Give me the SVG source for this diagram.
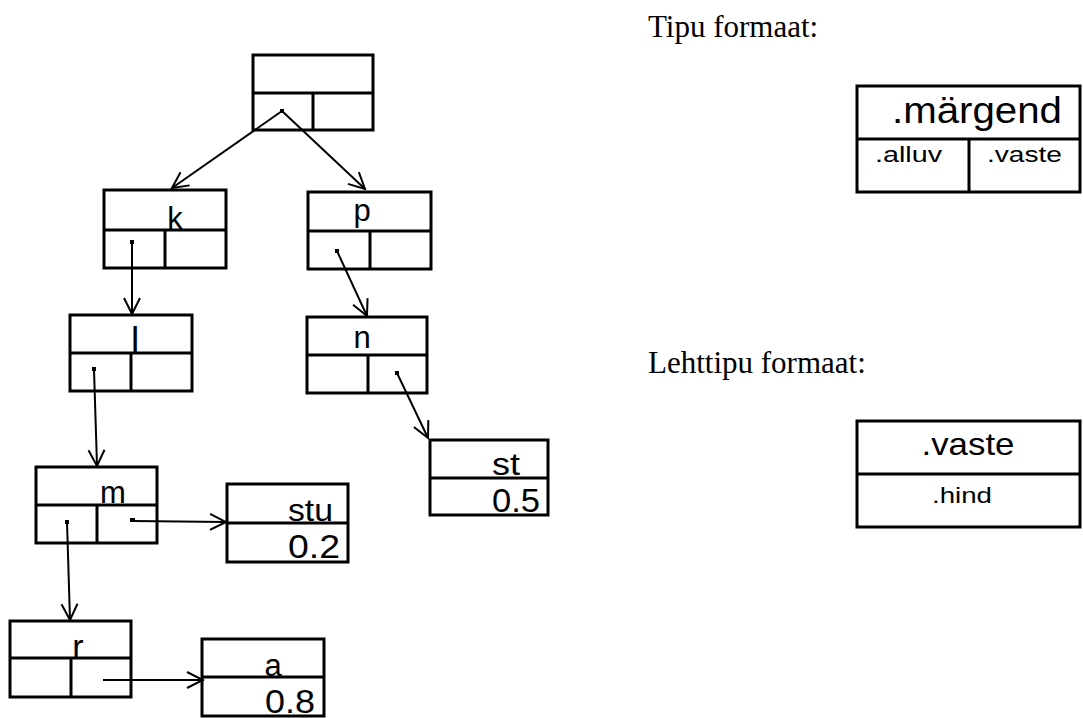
<svg xmlns="http://www.w3.org/2000/svg" width="1083" height="718" viewBox="0 0 1083 718">
  <style>
    .box { fill: #fff; stroke: #000; stroke-width: 3; }
    .sep { stroke: #000; stroke-width: 3; fill: none; }
    .lbl { font-family: "Liberation Sans", Arial, sans-serif; font-size: 31px; fill: #000; }
    .cap { font-family: "Liberation Serif", "Times New Roman", serif; font-size: 31px; fill: #000; }
    .fmt { font-family: "Liberation Sans", Arial, sans-serif; fill: #000; }
    .edge { stroke: #000; stroke-width: 2; fill: none; marker-end: url(#vee); }
    .dot { fill: #000; }
  </style>
  <defs>
    <marker id="vee" viewBox="0 0 20 20" refX="18" refY="10" markerWidth="20" markerHeight="20" markerUnits="userSpaceOnUse" orient="auto">
      <path d="M2,2 L18,10 L2,18" fill="none" stroke="#000" stroke-width="2"/>
    </marker>
  </defs>
  <rect width="1083" height="718" fill="#fff"/>

  <!-- tree nodes: label row on top, alluv / vaste cells below -->
  <g id="root">
    <rect class="box" x="253" y="55" width="120" height="75"/>
    <path class="sep" d="M253,93 H373 M313,93 V130"/>
  </g>
  <g id="node-k">
    <rect class="box" x="104" y="190" width="122" height="78"/>
    <path class="sep" d="M104,230 H226 M165,230 V268"/>
    <text class="lbl" x="175" y="229" text-anchor="middle">k</text>
  </g>
  <g id="node-p">
    <rect class="box" x="308" y="192" width="123" height="77"/>
    <path class="sep" d="M308,231 H431 M370,231 V269"/>
    <text class="lbl" x="362" y="221" text-anchor="middle">p</text>
  </g>
  <g id="node-l">
    <rect class="box" x="70" y="315" width="122" height="76"/>
    <path class="sep" d="M70,353 H192 M131,353 V391"/>
    <text class="lbl" x="135" y="353" text-anchor="middle" style="font-size:37px">l</text>
  </g>
  <g id="node-n">
    <rect class="box" x="307" y="317" width="120" height="76"/>
    <path class="sep" d="M307,355 H427 M368,355 V393"/>
    <text class="lbl" x="362" y="348" text-anchor="middle">n</text>
  </g>
  <g id="node-m">
    <rect class="box" x="36" y="467" width="121" height="76"/>
    <path class="sep" d="M36,505 H157 M97,505 V543"/>
    <text class="lbl" x="113" y="503" text-anchor="middle">m</text>
  </g>
  <g id="node-r">
    <rect class="box" x="10" y="621" width="121" height="76"/>
    <path class="sep" d="M10,658 H131 M71,658 V697"/>
    <text class="lbl" x="78" y="658" text-anchor="middle" style="font-size:34px">r</text>
  </g>

  <!-- leaves: vaste on top, hind below -->
  <g id="leaf-stu">
    <rect class="box" x="227" y="484" width="121" height="78"/>
    <path class="sep" d="M227,523 H348"/>
    <text class="lbl" x="333" y="521" text-anchor="end" textLength="45" lengthAdjust="spacingAndGlyphs">stu</text>
    <text class="lbl" x="340" y="558" text-anchor="end" textLength="52" lengthAdjust="spacingAndGlyphs" style="font-size:33px">0.2</text>
  </g>
  <g id="leaf-st">
    <rect class="box" x="430" y="440" width="118" height="75"/>
    <path class="sep" d="M430,478 H548"/>
    <text class="lbl" x="520" y="475" text-anchor="end" textLength="28" lengthAdjust="spacingAndGlyphs">st</text>
    <text class="lbl" x="540" y="512" text-anchor="end" textLength="48" lengthAdjust="spacingAndGlyphs" style="font-size:33px">0.5</text>
  </g>
  <g id="leaf-a">
    <rect class="box" x="202" y="639" width="122" height="77"/>
    <path class="sep" d="M202,677 H324"/>
    <text class="lbl" x="273" y="676" text-anchor="middle">a</text>
    <text class="lbl" x="315" y="713" text-anchor="end" textLength="50" lengthAdjust="spacingAndGlyphs" style="font-size:33px">0.8</text>
  </g>

  <!-- pointers -->
  <g id="connectors">
    <rect class="dot" x="280" y="109" width="4" height="4"/>
    <line class="edge" x1="282" y1="111" x2="172" y2="188"/>
    <line class="edge" x1="282" y1="111" x2="365" y2="189"/>
    <rect class="dot" x="130" y="240" width="4" height="4"/>
    <line class="edge" x1="132" y1="242" x2="132" y2="314"/>
    <rect class="dot" x="335" y="249" width="4" height="4"/>
    <line class="edge" x1="337" y1="251" x2="367" y2="316"/>
    <rect class="dot" x="92" y="367" width="4" height="4"/>
    <line class="edge" x1="94" y1="369" x2="97" y2="466"/>
    <rect class="dot" x="130" y="518" width="5" height="4"/>
    <line class="edge" x1="133" y1="521" x2="226" y2="522"/>
    <rect class="dot" x="65" y="520" width="4" height="4"/>
    <line class="edge" x1="67" y1="522" x2="70" y2="620"/>
    <line class="edge" x1="103" y1="680" x2="203" y2="680"/>
    <rect class="dot" x="395" y="371" width="4" height="4"/>
    <line class="edge" x1="397" y1="373" x2="428" y2="438"/>
  </g>

  <!-- legend -->
  <text class="cap" x="648" y="37">Tipu formaat:</text>
  <g id="fmt-node">
    <rect class="box" x="857" y="86" width="223" height="106"/>
    <path class="sep" d="M857,139 H1080 M969,139 V192"/>
    <text class="fmt" x="977" y="123" text-anchor="middle" textLength="170" lengthAdjust="spacingAndGlyphs" style="font-size:36px">.märgend</text>
    <text class="fmt" x="875" y="162" textLength="67" lengthAdjust="spacingAndGlyphs" style="font-size:22px">.alluv</text>
    <text class="fmt" x="987" y="162" textLength="75" lengthAdjust="spacingAndGlyphs" style="font-size:22px">.vaste</text>
  </g>
  <text class="cap" x="648" y="373">Lehttipu formaat:</text>
  <g id="fmt-leaf">
    <rect class="box" x="857" y="421" width="223" height="106"/>
    <path class="sep" d="M857,474 H1080"/>
    <text class="fmt" x="968" y="455" text-anchor="middle" textLength="93" lengthAdjust="spacingAndGlyphs" style="font-size:32px">.vaste</text>
    <text class="fmt" x="962" y="503" text-anchor="middle" textLength="60" lengthAdjust="spacingAndGlyphs" style="font-size:22px">.hind</text>
  </g>
</svg>
